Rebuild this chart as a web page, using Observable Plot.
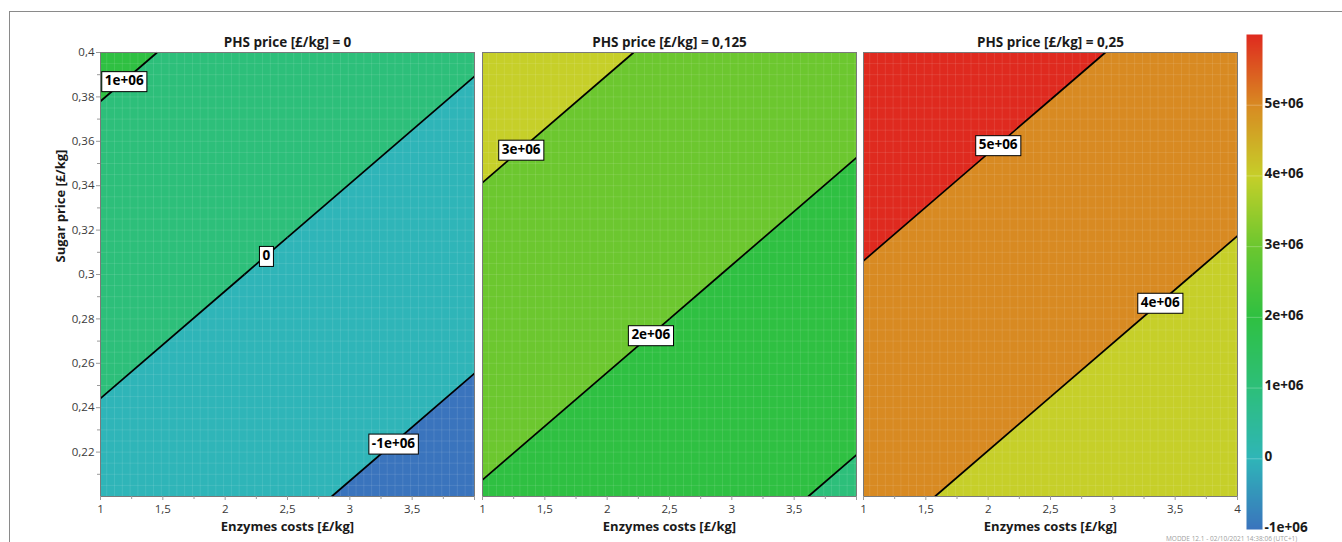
<!DOCTYPE html>
<html><head><meta charset="utf-8">
<script src="https://cdn.jsdelivr.net/npm/d3@7"></script>
<script src="https://cdn.jsdelivr.net/npm/@observablehq/plot@0.6"></script>
<style>
html,body{margin:0;padding:0;background:#fff;overflow:hidden;}
#root{position:relative;width:1342px;height:542px;overflow:hidden;font-family:"Open Sans",sans-serif;}
#root svg{position:absolute;top:0;overflow:visible;}
.frameBox{position:absolute;left:9px;top:11px;width:1400px;height:600px;border:1px solid #8a8a8a;box-sizing:border-box;}
.stamp{position:absolute;left:1166px;top:535.5px;font-size:6.5px;line-height:6px;height:6px;color:#a0a0a0;white-space:nowrap;}
</style></head><body>
<div id="root"><div class="frameBox"></div><div class="stamp">MODDE 12.1 - 02/10/2021 14:38:06 (UTC+1)</div></div>
<script>
// ---- data ----
const enzymeCosts = [1, 2.5, 4];           // £/kg (columns)
const sugarPrices = [0.2, 0.3, 0.4];       // £/kg (rows)
const phsLabels = ["0", "0,125", "0,25"];  // PHS price [£/kg] per panel
// estimated response (rows follow sugarPrices, columns follow enzymeCosts)
const profitPhs0 = [
  [-330000, -872000, -1414000],
  [417000, -125000, -667000],
  [1164000, 622000, 80000]
];
const profitPhs0125 = [
  [1944000, 1402000, 860000],
  [2691000, 2149000, 1607000],
  [3438000, 2896000, 2354000]
];
const profitPhs025 = [
  [4207000, 3665000, 3123000],
  [4954000, 4412000, 3870000],
  [5701000, 5159000, 4617000]
];
const contourLevels = [-1e6, 0, 1e6, 2e6, 3e6, 4e6, 5e6];
// contour labels: panel, level, text, enzyme-cost anchor
const labelPanels = [0, 0, 0, 1, 1, 2, 2];
const labelLevels = [1e6, 0, -1e6, 3e6, 2e6, 5e6, 4e6];
const labelTexts = ["1e+06", "0", "-1e+06", "3e+06", "2e+06", "5e+06", "4e+06"];
const labelEnzyme = [1.19, 2.33, 3.35, 1.31, 2.35, 2.08, 3.38];
// axes
const xTicks = [1, 1.5, 2, 2.5, 3, 3.5, 4];
const xTickLabels = ["1", "1,5", "2", "2,5", "3", "3,5", "4"];
const xMinorTicks = [1.25, 1.75, 2.25, 2.75, 3.25, 3.75];
const yTicks = [0.22, 0.24, 0.26, 0.28, 0.3, 0.32, 0.34, 0.36, 0.38, 0.4];
const yTickLabels = ["0,22", "0,24", "0,26", "0,28", "0,3", "0,32", "0,34", "0,36", "0,38", "0,4"];
const yMinorTicks = [0.21, 0.23, 0.25, 0.27, 0.29, 0.31, 0.33, 0.35, 0.37, 0.39];
// colour bar
const colorStops = [-1e6, 0, 1e6, 2e6, 3e6, 4e6, 5e6, 6e6];
const colorHex = ["#3a74bd", "#2fb5b8", "#2dbf7a", "#2fc042", "#6cc72f", "#c6cf29", "#d88a22", "#df2a1f"];
const colorbarTicks = [-1e6, 0, 1e6, 2e6, 3e6, 4e6, 5e6];
const colorbarTickLabels = ["-1e+06", "0", "1e+06", "2e+06", "3e+06", "4e+06", "5e+06"];

const grids = [profitPhs0, profitPhs0125, profitPhs025];
const FONT = "Open Sans";
// faint rendering texture of the original surface plot
const textureX = d3.range(1.05, 4, 0.0625);
const textureY = d3.range(0.205, 0.4, 0.005);

function gridRows(grid) {
  const rows = [];
  sugarPrices.forEach((s, j) => enzymeCosts.forEach((e, i) => rows.push({enzyme: e, sugar: s, profit: grid[j][i]})));
  return rows;
}
function levelSegments(grid) {
  const segs = [];
  for (const level of contourLevels) {
    for (let j = 0; j < sugarPrices.length - 1; j++) {
      for (let i = 0; i < enzymeCosts.length - 1; i++) {
        const c = [[i, j], [i + 1, j], [i + 1, j + 1], [i, j + 1]];
        const pts = [];
        for (let k = 0; k < 4; k++) {
          const [ai, aj] = c[k], [bi, bj] = c[(k + 1) % 4];
          const va = grid[aj][ai] - level, vb = grid[bj][bi] - level;
          if ((va < 0) !== (vb < 0)) {
            const t = va / (va - vb);
            pts.push([enzymeCosts[ai] + t * (enzymeCosts[bi] - enzymeCosts[ai]),
                      sugarPrices[aj] + t * (sugarPrices[bj] - sugarPrices[aj])]);
          }
        }
        if (pts.length === 2) segs.push({level, x1: pts[0][0], y1: pts[0][1], x2: pts[1][0], y2: pts[1][1]});
      }
    }
  }
  return segs;
}
function labelRows(p, segs) {
  const out = [];
  labelPanels.forEach((lp, k) => {
    if (lp !== p) return;
    const lv = labelLevels[k], ex = labelEnzyme[k];
    const s = segs.find(s => s.level === lv && Math.min(s.x1, s.x2) <= ex && ex <= Math.max(s.x1, s.x2));
    if (!s) return;
    const t = (ex - s.x1) / (s.x2 - s.x1);
    out.push({enzyme: ex, sugar: s.y1 + t * (s.y2 - s.y1), text: labelTexts[k]});
  });
  return out;
}

const root = document.getElementById("root");
const layouts = [
  {left: 0, width: 480, marginLeft: 100, marginRight: 6},
  {left: 476, width: 386, marginLeft: 6, marginRight: 6},
  {left: 857, width: 386, marginLeft: 6, marginRight: 6}
];

grids.forEach((grid, p) => {
  const L = layouts[p];
  const segs = levelSegments(grid);
  const last = p === grids.length - 1;
  const marks = [
    Plot.contour(gridRows(grid), {
      x: "enzyme", y: "sugar", fill: "profit",
      thresholds: [contourLevels[0] - 1e6, ...contourLevels],
      interpolate: "barycentric", stroke: "none", pixelSize: 1
    }),
    Plot.ruleX(textureX, {stroke: "#fff", strokeOpacity: 0.1}),
    Plot.ruleY(textureY, {stroke: "#fff", strokeOpacity: 0.1}),
    Plot.link(segs, {x1: "x1", y1: "y1", x2: "x2", y2: "y2", stroke: "#000", strokeWidth: 1.7}),
    Plot.frame({stroke: "#7a7a7a"}),
    Plot.axisX(xTicks, {tickSize: 4, tickPadding: 4, stroke: "#9a9a9a", fill: "#3a3a3a", fontSize: 11.5,
      tickFormat: d => (d === 4 && !last) ? "" : xTickLabels[xTicks.indexOf(d)]}),
    Plot.axisX(xMinorTicks, {tickSize: 3, stroke: "#9a9a9a", tickFormat: () => ""}),
    Plot.text([`PHS price [£/kg] = ${phsLabels[p]}`], {frameAnchor: "top", dy: -15, fontWeight: "bold", fontSize: 13.5, fill: "#1a1a1a"}),
    Plot.text(["Enzymes costs [£/kg]"], {frameAnchor: "bottom", dy: 34, fontWeight: "bold", fontSize: 13, fill: "#1a1a1a"}),
    Plot.text(labelRows(p, segs), {x: "enzyme", y: "sugar", text: "text", fontWeight: "bold", fontSize: 13.5, fill: "#000", className: "clabel"})
  ];
  if (p === 0) {
    marks.push(
      Plot.axisY(yTicks, {tickSize: 4, tickPadding: 2, stroke: "#9a9a9a", fill: "#3a3a3a", fontSize: 11.5,
        tickFormat: d => yTickLabels[yTicks.indexOf(d)]}),
      Plot.axisY(yMinorTicks, {tickSize: 3, stroke: "#9a9a9a", tickFormat: () => ""}),
      Plot.text(["Sugar price [£/kg]"], {frameAnchor: "left", dx: -40, dy: -12, rotate: -90, fontWeight: "bold", fontSize: 13, fill: "#1a1a1a"})
    );
  }
  const svg = Plot.plot({
    width: L.width, height: 542,
    marginLeft: L.marginLeft, marginRight: L.marginRight, marginTop: 52, marginBottom: 46,
    style: {background: "transparent", overflow: "visible", fontFamily: FONT},
    x: {domain: [1, 4], axis: null},
    y: {domain: [0.2, 0.4], axis: null},
    color: {type: "threshold", domain: contourLevels, range: colorHex},
    marks
  });
  svg.style.left = L.left + "px";
  root.appendChild(svg);
  // white boxes behind contour labels
  svg.querySelectorAll(".clabel text").forEach(t => {
    const b = t.getBBox();
    const r = document.createElementNS("http://www.w3.org/2000/svg", "rect");
    r.setAttribute("x", b.x - 3);
    r.setAttribute("y", b.y + 0.5);
    r.setAttribute("width", b.width + 6);
    r.setAttribute("height", b.height + 2);
    r.setAttribute("fill", "#fff");
    r.setAttribute("stroke", "#000");
    r.setAttribute("stroke-width", "1");
    if (t.getAttribute("transform")) r.setAttribute("transform", t.getAttribute("transform"));
    t.parentNode.insertBefore(r, t);
  });
});

// colour bar
const bar = Plot.plot({
  width: 102, height: 542, marginLeft: 6, marginRight: 80, marginTop: 34, marginBottom: 13,
  style: {background: "transparent", overflow: "visible", fontFamily: FONT},
  x: {domain: [0, 1], axis: null},
  y: {domain: [colorStops[0], colorStops[colorStops.length - 1]], axis: null},
  color: {type: "linear", domain: colorStops, range: colorHex},
  marks: [
    Plot.raster({x1: 0, x2: 1, y1: colorStops[0], y2: colorStops[colorStops.length - 1], fill: (x, y) => y, pixelSize: 1}),
    Plot.ruleY(colorbarTicks.slice(1), {stroke: "#fff", strokeOpacity: 0.25}),
    Plot.axisY(colorbarTicks, {anchor: "right", tickSize: 0, tickPadding: 2, dy: -2, fontWeight: "bold", fontSize: 13.5, fill: "#1a1a1a",
      tickFormat: d => colorbarTickLabels[colorbarTicks.indexOf(d)]})
  ]
});
bar.style.left = "1240px";
root.appendChild(bar);
</script>
</body></html>
